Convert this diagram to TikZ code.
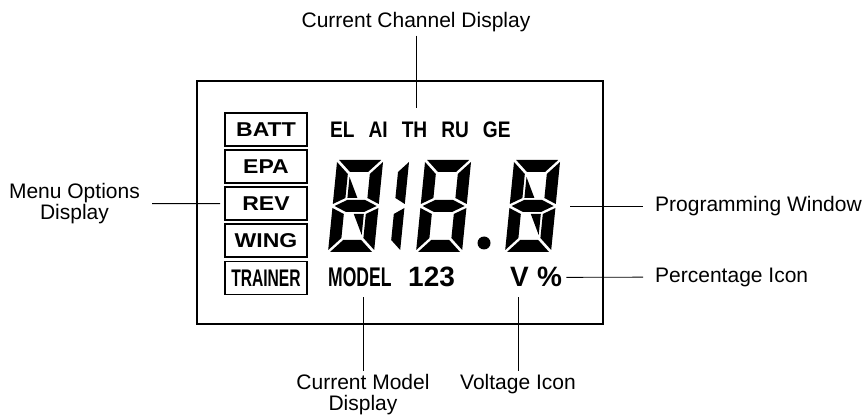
\documentclass[tikz,border=0pt]{standalone}
\usepackage{fontspec}
\setmainfont{Liberation Sans}
\newfontfamily\boxfont[FakeStretch=1.15]{Liberation Sans}
\newfontfamily\narrowfont[FakeStretch=0.65]{Liberation Sans}
\newfontfamily\chanfont[FakeStretch=0.85]{Liberation Sans}
\usepackage{tikz}
\usetikzlibrary{positioning}

% one LCD digit "8", local units, origin lower left
\newcommand{\lcdeight}{%
  \fill (2,92) -- (44,92) -- (32,80) -- (14,80) -- cycle;
  \fill (2,0) -- (44,0) -- (32,12) -- (14,12) -- cycle;
  \fill (2,46) -- (14,52) -- (32,52) -- (44,46) -- (32,40) -- (14,40) -- cycle;
  \fill (0,90) -- (12,78) -- (12,54) -- (0,48) -- cycle;
  \fill (0,44) -- (12,38) -- (12,14) -- (0,2) -- cycle;
  \fill (46,90) -- (34,78) -- (34,54) -- (46,48) -- cycle;
  \fill (46,44) -- (34,38) -- (34,14) -- (46,2) -- cycle;
}
% diagonal segments
\newcommand{\lcddiag}{%
  \fill (14,75) -- (24,54) -- (14,54) -- cycle;
  \fill (32,17) -- (22,38) -- (32,38) -- cycle;
}

\begin{document}
\begin{tikzpicture}[
    x=1pt, y=-1pt,
    lbl/.style={font=\fontsize{21}{21.5}\selectfont, align=center,
                inner xsep=12pt, inner ysep=3pt},
    lead/.style={line width=0.9pt},
    menubox/.style={draw, line width=1.6pt, minimum width=82pt,
                    minimum height=33pt, inner sep=0pt,
                    font=\boxfont\bfseries\fontsize{20}{20}\selectfont},
    lcdtext/.style={inner sep=0pt, anchor=base west},
]
    \useasboundingbox (0,0) rectangle (866,419);

    % Display frame
    \node[draw, line width=1.1pt, minimum width=406pt, minimum height=243pt,
          inner sep=0pt] (lcd) at (400,202.5) {};

    % Menu options
    \node[menubox] (batt) at (266,129.5) {BATT};
    \node[menubox, below=2.5pt of batt] (epa) {EPA};
    \node[menubox, below=2.5pt of epa] (rev) {REV};
    \node[menubox, below=2.5pt of rev] (wing) {WING};
    \node[menubox, below=2.5pt of wing,
          font=\narrowfont\bfseries\fontsize{24}{24}\selectfont] (trainer) {TRAINER};

    % Channel row
    \node[lcdtext, font=\chanfont\bfseries\fontsize{22.5}{22.5}\selectfont] (chan) at (330,138)
        {EL\hspace{14pt}AI\hspace{14pt}TH\hspace{14pt}RU\hspace{14pt}GE};

    % Digits
    \begin{scope}[shift={(328,252)}, xslant=0.1, yscale=-1]
        \lcdeight \lcddiag
        \fill (72,90) -- (62,80) -- (62,54) -- (72,48) -- cycle;
        \fill (72,44) -- (62,38) -- (62,12) -- (72,2) -- cycle;
    \end{scope}
    \begin{scope}[shift={(416,252)}, xslant=0.1, yscale=-1]
        \lcdeight
    \end{scope}
    \fill (484,243) circle (6.5pt);
    \begin{scope}[shift={(505,252)}, xslant=0.1, yscale=-1]
        \lcdeight \lcddiag
    \end{scope}

    % Bottom row
    \node[lcdtext, font=\narrowfont\bfseries\fontsize{27}{27}\selectfont] (model) at (328,287) {MODEL};
    \node[lcdtext, font=\bfseries\fontsize{28}{28}\selectfont] (num) at (408,287) {123};
    \node[lcdtext, font=\bfseries\fontsize{28}{28}\selectfont] (volt) at (510,287) {V};
    \node[lcdtext, font=\bfseries\fontsize{28}{28}\selectfont] (pct) at (537,287) {\%};

    % Labels
    \node[lbl, anchor=base] (chanlbl) at (416,28) {Current Channel Display};
    \node[lbl, anchor=east] (menulbl) at (152,203.6) {Menu Options\\Display};
    \node[lbl, anchor=west] (proglbl) at (643,206) {Programming Window};
    \node[lbl, anchor=west] (pctlbl) at (643,277) {Percentage Icon};
    \node[lbl, anchor=north] (modellbl) at (363,371) {Current Model\\Display};
    \node[lbl, anchor=north] (voltlbl) at (518,371) {Voltage Icon};

    \coordinate (chanend) at (416,108);
    \coordinate (progend) at (570,206);
    \coordinate (modelend) at (363,297);
    \coordinate (voltend) at (518,297);

    % Leaders
    \draw[lead] (chanlbl) -- (chanend);
    \draw[lead, shorten >=4pt] (menulbl) -- (rev);
    \draw[lead] (progend) -- (proglbl);
    \draw[lead, shorten <=4pt] (pct) -- (pctlbl);
    \draw[lead] (modelend) -- (modellbl);
    \draw[lead] (voltend) -- (voltlbl);
\end{tikzpicture}
\end{document}
